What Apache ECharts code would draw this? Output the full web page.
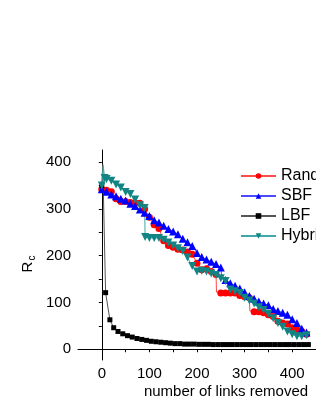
<!DOCTYPE html>
<html>
<head>
<meta charset="utf-8">
<script src="https://cdn.jsdelivr.net/npm/echarts@6/dist/echarts.min.js"></script>
<style>html,body{margin:0;padding:0;background:#fff;}#c{width:316px;height:409px;}</style>
</head>
<body>
<div id="c"></div>
<script>
var seriesNames = ['Random', 'SBF', 'LBF', 'Hybrid'];
var xTickValues = [0, 100, 200, 300, 400];
var xMinorTicks = [0, 50, 100, 150, 200, 250, 300, 350, 400, 450];
var yTickValues = [0, 100, 200, 300, 400];
var yMinorTicks = [0, 50, 100, 150, 200, 250, 300, 350, 400];

// Random (null-marker points are the vertical jumps of the line, no symbol)
var randX = [0,10,20,30,40,50,60,70,80,90,100,110,120,130,140,150,160,170,180,190,200,210,220,230,240,241,250,260,270,280,290,300,310,311,320,330,340,350,360,370,380,390,400,410,420,430];
var randY = [342,340,337,322,316,316,314,313,312,300,282,266,258,232,222,218,214,212,208,203,184,170,172,166,160,122,120,120,120,120,115,112,110,82,80,80,78,74,70,60,56,54,46,42,38,32];
var randNoMark = [241,311];

var sbfX = [0,10,20,30,40,50,60,70,80,90,100,110,120,130,140,150,160,170,180,190,200,210,220,230,240,250,252,260,270,280,290,300,310,320,330,340,350,360,370,380,390,400,410,420,430];
var sbfY = [342,337,331,327,322,318,311,306,299,292,285,276,271,264,257,252,246,236,229,221,206,197,192,187,182,175,152,148,141,136,130,122,114,108,102,98,94,86,82,78,74,64,56,44,36];
var sbfNoMark = [252];

var lbfX = [0,2,8,17,25,34,44,54,64,74,84,94,104,114,124,134,144,154,164,174,184,194,204,214,224,234,244,254,264,274,284,294,304,314,324,334,344,354,364,374,384,394,404,414,424,434];
var lbfY = [350,395,121,63,46,38,33,29,26,23,21,19,17,16,15,14,13,12,12,11,11,11,10.5,10.5,10.5,10,10,10,10,10,10,10,10,10,10,10,10,10,10,10,10,10,10,10,10,10];
var lbfNoMark = [2];

var hybX = [0,3,6,10,20,30,40,50,60,70,80,90,91,100,110,120,130,140,150,160,170,180,190,200,210,220,230,240,250,260,270,280,290,300,310,320,330,340,350,360,370,380,390,400,410,420,430];
var hybY = [350,392,366,364,360,352,346,336,332,320,308,302,240,238,238,238,234,228,222,216,210,196,178,166,168,166,162,159,152,146,128,124,120,110,104,98,90,84,76,66,56,48,38,32,28,28,30];
var hybNoMark = [3];

function build(xs, ys, noMark) {
  return xs.map(function (x, i) {
    var d = { value: [x, ys[i]] };
    if (noMark.indexOf(x) >= 0) d.symbol = 'none';
    return d;
  });
}

var font = 'Liberation Sans, Arial, sans-serif';
var chart = echarts.init(document.getElementById('c'), null, { renderer: 'canvas' });
chart.setOption({
  animation: false,
  backgroundColor: '#fff',
  grid: { left: 78, top: 150, width: 247, height: 210 },
  legend: {
    orient: 'vertical', left: 235, top: 162, itemWidth: 35, itemHeight: 7, itemGap: 2,
    padding: 5,
    textStyle: { fontFamily: font, fontSize: 16, color: '#000', lineHeight: 18 },
    data: seriesNames
  },
  xAxis: {
    type: 'value', min: -50, max: 450,
    axisLine: { lineStyle: { color: '#000', width: 1 } },
    axisTick: { show: true, inside: false, length: 3, customValues: xMinorTicks, lineStyle: { color: '#000' } },
    axisLabel: { customValues: xTickValues, margin: 6, fontFamily: font, fontSize: 15, color: '#000' },
    splitLine: { show: false }
  },
  yAxis: {
    type: 'value', min: -23, max: 426,
    axisLine: { show: true, lineStyle: { color: '#000', width: 1 } },
    axisTick: { show: true, inside: false, length: 3, customValues: yMinorTicks, lineStyle: { color: '#000' } },
    axisLabel: { customValues: yTickValues, margin: 7, fontFamily: font, fontSize: 15, color: '#000' },
    splitLine: { show: false }
  },
  graphic: [
    { type: 'text', x: 226, y: 392, style: { text: 'number of links removed', font: '15px ' + font, fill: '#000', align: 'center', verticalAlign: 'middle' } },
    { type: 'text', x: 28, y: 264, rotation: Math.PI / 2, style: { text: '{r|R}{s|c}', align: 'center', verticalAlign: 'middle',
      rich: { r: { fontSize: 15, fontFamily: font, fill: '#000' }, s: { fontSize: 10, fontFamily: font, fill: '#000', padding: [8, 0, 0, 1] } } } }
  ],
  series: [
    { name: 'Random', type: 'line', data: build(randX, randY, randNoMark), symbol: 'circle', symbolSize: 7,
      itemStyle: { color: '#ff0000' }, lineStyle: { color: '#ff4a4a', width: 1 } },
    { name: 'SBF', type: 'line', data: build(sbfX, sbfY, sbfNoMark), symbol: 'triangle', symbolSize: 8,
      itemStyle: { color: '#0000ff' }, lineStyle: { color: '#4a4aff', width: 1 } },
    { name: 'LBF', type: 'line', data: build(lbfX, lbfY, lbfNoMark), symbol: 'rect', symbolSize: 5,
      itemStyle: { color: '#000' }, lineStyle: { color: '#555', width: 1 } },
    { name: 'Hybrid', type: 'line', data: build(hybX, hybY, hybNoMark), symbol: 'triangle', symbolRotate: 180, symbolSize: 8,
      itemStyle: { color: '#138484' }, lineStyle: { color: '#40a8a8', width: 1 } }
  ]
});
</script>
</body>
</html>
